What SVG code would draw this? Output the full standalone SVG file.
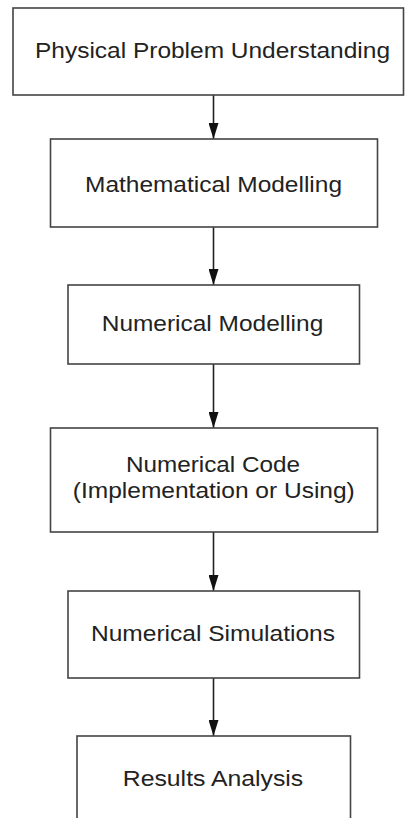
<svg xmlns="http://www.w3.org/2000/svg" width="405" height="818" viewBox="0 0 405 818">
<defs>
<marker id="ah" markerWidth="16" markerHeight="10" refX="16" refY="5" orient="auto" markerUnits="userSpaceOnUse" viewBox="0 0 16 10">
<path d="M0,0 L16,5 L0,10 Z" fill="#111"/>
</marker>
<style>
.box{fill:#fff;stroke:#444;stroke-width:1.6}
.t{font-family:"Liberation Sans",Arial,sans-serif;font-size:22px;fill:#222;text-anchor:middle}
.c{stroke:#222;stroke-width:1.6;fill:none}
</style>
</defs>
<rect width="405" height="818" fill="#fff"/>
<g id="connectors">
<line class="c" x1="213.5" y1="95" x2="213.5" y2="139" marker-end="url(#ah)"/>
<line class="c" x1="213.5" y1="227" x2="213.5" y2="285" marker-end="url(#ah)"/>
<line class="c" x1="213.5" y1="364" x2="213.5" y2="428" marker-end="url(#ah)"/>
<line class="c" x1="213.5" y1="532" x2="213.5" y2="591" marker-end="url(#ah)"/>
<line class="c" x1="213.5" y1="678" x2="213.5" y2="736" marker-end="url(#ah)"/>
</g>
<g id="n1">
<rect class="box" x="13" y="8" width="390.5" height="87"/>
<text class="t" x="212.5" y="58" textLength="355" lengthAdjust="spacingAndGlyphs">Physical Problem Understanding</text>
</g>
<g id="n2">
<rect class="box" x="50.5" y="139" width="327" height="88"/>
<text class="t" x="213.5" y="191.5" textLength="257" lengthAdjust="spacingAndGlyphs">Mathematical Modelling</text>
</g>
<g id="n3">
<rect class="box" x="68" y="285" width="291.5" height="79"/>
<text class="t" x="212.5" y="331" textLength="221.5" lengthAdjust="spacingAndGlyphs">Numerical Modelling</text>
</g>
<g id="n4">
<rect class="box" x="50.5" y="428" width="327" height="104"/>
<text class="t" x="213" y="472" textLength="174" lengthAdjust="spacingAndGlyphs">Numerical Code</text>
<text class="t" x="213.8" y="497.5" textLength="282" lengthAdjust="spacingAndGlyphs">(Implementation or Using)</text>
</g>
<g id="n5">
<rect class="box" x="68" y="591" width="291.5" height="87"/>
<text class="t" x="213" y="641" textLength="244" lengthAdjust="spacingAndGlyphs">Numerical Simulations</text>
</g>
<g id="n6">
<rect class="box" x="77" y="736" width="273.5" height="100"/>
<text class="t" x="213" y="786" textLength="180.5" lengthAdjust="spacingAndGlyphs">Results Analysis</text>
</g>
</svg>
